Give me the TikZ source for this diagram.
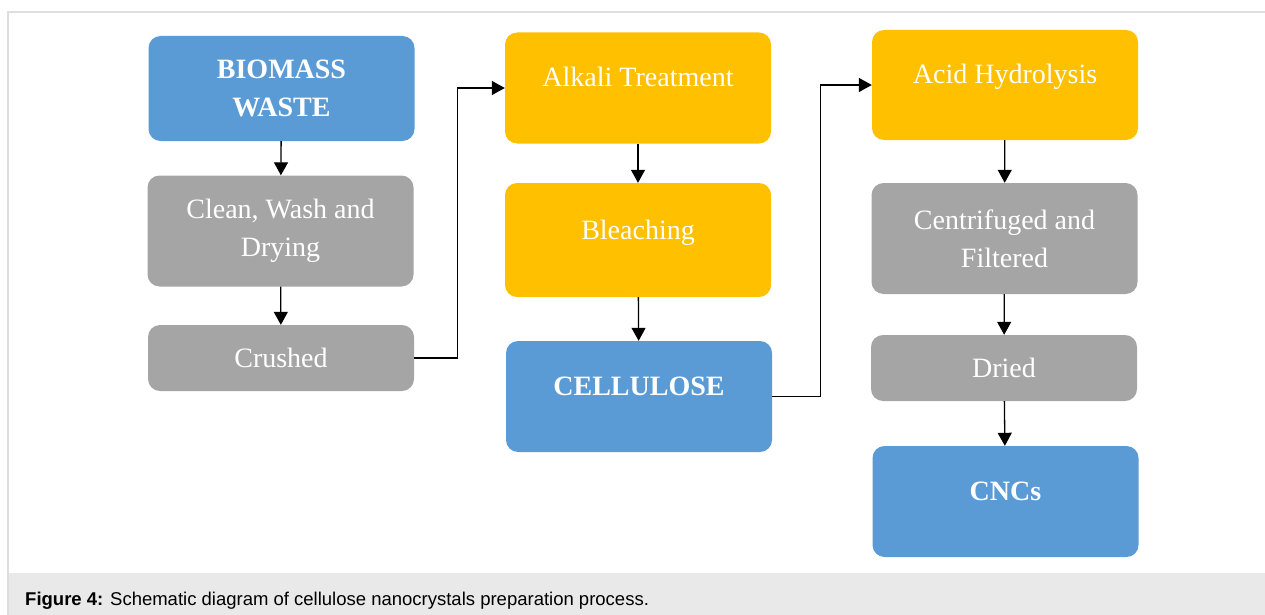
\documentclass[tikz,border=0pt]{standalone}
\usepackage{fontspec}
\setmainfont{Liberation Serif}
\newfontfamily\captionfont{Liberation Sans}
\usepackage{tikz}
\usetikzlibrary{arrows.meta,shapes}
\definecolor{FontColor}{RGB}{255,255,255}
\definecolor{Blue}{RGB}{91,155,213}
\definecolor{Yellow}{RGB}{255,192,0}
\definecolor{Gray}{RGB}{165,165,165}
\definecolor{FrameGray}{RGB}{222,222,222}
\definecolor{CaptionGray}{RGB}{233,233,233}

\tikzset{
  item/.style={rounded corners=12pt, text=FontColor, minimum width=266pt, minimum height=111pt, align=center, inner sep=0pt, font=\fontsize{28}{38}\selectfont},
  short/.style={minimum height=66pt},
  upper/.style={text height=20pt, text depth=22pt},
  key/.style={font=\fontsize{28}{38}\selectfont\bfseries},
  link/.style={-{Triangle[width=14pt,length=13pt]}, line width=1.3pt, draw=black},
}

\begin{document}
\begin{tikzpicture}[x=1pt, y=-1pt]
    \useasboundingbox (0,0) rectangle (1265,615);
    \fill[CaptionGray] (8,573) rectangle (1265,615);
    \draw[FrameGray, line width=1.5pt] (8,615) -- (8,12) -- (1265,12);

    \node[item, key, fill=Blue, minimum height=105pt] (biomass) at (281.5,88.5) {BIOMASS\\WASTE};
    
    \node[item, fill=Gray] (clean) at (280.5,231) {Clean, Wash and\\Drying};
    
    \node[item, short, fill=Gray] (crushed) at (281,358) {Crushed};
    
    \node[item, upper, fill=Yellow] (alkali) at (638,88) {Alkali Treatment};
    
    \node[item, upper, fill=Yellow, minimum height=114pt] (bleaching) at (638,240) {Bleaching};
    
    \node[item, key, upper, fill=Blue] (cellulose) at (639,396.5) {CELLULOSE};
    
    \node[item, upper, fill=Yellow, minimum height=110pt] (acid) at (1005,85) {Acid Hydrolysis};
    
    \node[item, fill=Gray] (centrifuged) at (1004.5,238.5) {Centrifuged and\\Filtered};
    
    \node[item, short, fill=Gray] (dried) at (1004,368) {Dried};
    
    \node[item, key, upper, fill=Blue] (cncs) at (1005.5,501.5) {CNCs};
    
    \node[anchor=base west, inner sep=0pt, font=\captionfont\fontsize{18.5}{21}\selectfont] (caption) at (25,605) {\textbf{Figure 4:} Schematic diagram of cellulose nanocrystals preparation process.};
    
    \draw[link] (biomass) to (clean);
    \draw[link] (clean) to (crushed);
    \draw[link] (crushed.east) -- ++(43,0) |- (alkali.west);
    \draw[link] (alkali) to (bleaching);
    \draw[link] (bleaching) to (cellulose);
    \draw[link] (cellulose.east) -- ++(48,0) |- (acid.west);
    \draw[link] (acid) to (centrifuged);
    \draw[link] (centrifuged) to (dried);
    \draw[link] (dried) to (cncs);
    
    \end{tikzpicture}
\end{document}
